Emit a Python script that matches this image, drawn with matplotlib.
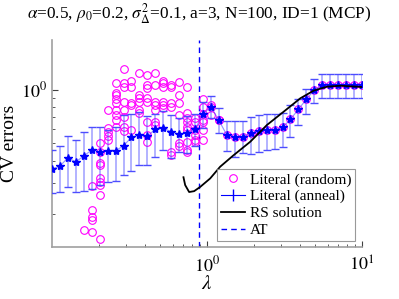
import numpy as np
import matplotlib
matplotlib.use("Agg")
import matplotlib.pyplot as plt
from matplotlib.lines import Line2D

plt.rcParams["font.family"] = ["Liberation Serif", "DejaVu Serif"]
plt.rcParams["mathtext.fontset"] = "stix"

# lambda grid (40 log-spaced points, 0.1 .. 10)
lam = np.logspace(-1, 1, 40)

# annealed literal: mean and error bar ends
anneal_mean = [0.359, 0.373, 0.415, 0.394, 0.425, 0.459, 0.449, 0.453, 0.454, 0.485,
               0.540, 0.556, 0.547, 0.601, 0.607, 0.581, 0.562, 0.573, 0.601, 0.729,
               0.801, 0.671, 0.556, 0.545, 0.545, 0.569, 0.588, 0.591, 0.593, 0.614,
               0.681, 0.775, 0.882, 0.994, 1.06, 1.06, 1.06, 1.06, 1.06, 1.06]
anneal_hi = [0.459, 0.481, 0.549, 0.522, 0.575, 0.619, 0.614, 0.593, 0.619, 0.720,
             0.726, 0.745, 0.711, 0.726, 0.758, 0.720, 0.690, 0.711, 0.726, 0.855,
             0.923, 0.785, 0.669, 0.669, 0.669, 0.699, 0.720, 0.729, 0.729, 0.742,
             0.819, 0.882, 1.006, 1.14, 1.216, 1.216, 1.216, 1.216, 1.216, 1.216]
anneal_lo = [0.262, 0.266, 0.284, 0.268, 0.270, 0.278, 0.292, 0.305, 0.308, 0.333,
             0.351, 0.378, 0.378, 0.420, 0.459, 0.414, 0.450, 0.440, 0.480, 0.609,
             0.690, 0.570, 0.454, 0.421, 0.440, 0.436, 0.449, 0.459, 0.465, 0.475,
             0.540, 0.633, 0.729, 0.837, 0.893, 0.893, 0.893, 0.893, 0.893, 0.893]

# random-start literal: several runs per lambda index (from index 22 on they match anneal)
random_runs = {
    4: [0.164],
    5: [0.288, 0.212, 0.194, 0.186, 0.160],
    6: [0.504, 0.449, 0.386, 0.380, 0.318, 0.303, 0.292, 0.257, 0.145],
    7: [0.768, 0.607, 0.576, 0.549, 0.522],
    8: [1.083, 0.952, 0.932, 0.882, 0.837, 0.768, 0.720, 0.675, 0.614],
    9: [1.297, 1.083, 1.037, 0.855, 0.768, 0.704, 0.619, 0.586],
    10: [1.116, 1.037, 0.837, 0.819, 0.593],
    11: [1.240, 0.932, 0.893, 0.855, 0.768, 0.736],
    12: [1.205, 1.060, 1.016, 0.893, 0.855, 0.661, 0.556, 0.510],
    13: [1.232, 1.060, 0.855, 0.819, 0.768, 0.661, 0.633],
    14: [1.116, 1.090, 1.037, 0.855, 0.819, 0.785],
    15: [1.060, 1.037, 0.837, 0.801, 0.449, 0.430],
    16: [1.105, 0.932, 0.837, 0.720, 0.500, 0.480],
    17: [1.037, 0.736, 0.690, 0.661, 0.619, 0.593, 0.510, 0.459, 0.449],
    18: [0.690, 0.661, 0.593, 0.556, 0.522, 0.510],
    19: [0.882, 0.801, 0.729, 0.675, 0.661, 0.593, 0.522],
    20: [0.819, 0.801, 0.720],
    21: [0.675, 0.671],
}
for k in range(22, 40):
    random_runs[k] = [anneal_mean[k]]

# replica-symmetric solution curve
rs_lam = [0.705, 0.723, 0.767, 0.826, 0.903, 1.048, 1.216, 1.475, 1.90, 2.435,
          3.12, 4.00, 4.87, 5.94, 7.24, 10.0]
rs_err = [0.323, 0.292, 0.267, 0.270, 0.285, 0.318, 0.370, 0.427, 0.510, 0.633,
          0.751, 0.893, 0.985, 1.037, 1.050, 1.033]

lam_at = 0.893

rx = [lam[k] for k, v in random_runs.items() for _ in v]
ry = [y for k, v in random_runs.items() for y in v]

fig = plt.figure(figsize=(3.99, 2.99), dpi=100)
ax = fig.add_axes([0.1303, 0.1739, 0.777, 0.692])

ax.plot(rx, ry, "o", mfc="none", mec="#ff00ff", ms=5.5, mew=0.8, zorder=2)

mean = np.array(anneal_mean)
yerr = [mean - np.array(anneal_lo), np.array(anneal_hi) - mean]
eb = ax.errorbar(lam, mean, yerr=yerr, fmt="-", color=(0.3, 0.3, 1.0, 0.6), lw=0.8,
                 ecolor=(0.3, 0.3, 1.0, 0.5), elinewidth=1.2, capsize=3, zorder=3)
for cap in eb[1]:
    cap.set_color("blue")
    cap.set_alpha(1)
ax.plot(lam, mean, "*", color="blue", ms=6, zorder=4)

ax.plot(rs_lam, rs_err, "-", color="black", lw=1.3, zorder=5)
ax.axvline(lam_at, color="blue", ls=(0, (4, 3)), lw=1.0, zorder=1)

ax.set_xscale("log")
ax.set_yscale("log")
ax.set_xlim(0.1, 10)
ax.set_ylim(0.1315, 1.89)
ax.set_xticks([1, 10])
ax.set_xticklabels([r"$10^0$", r"$10^1$"])
ax.set_yticks([1])
ax.set_yticklabels([r"$10^0$"])
ax.tick_params(which="both", direction="in", colors="#404040", labelcolor="black",
               labelsize=13)
ax.tick_params(axis="x", pad=6)
ax.tick_params(which="major", length=4)
ax.tick_params(which="minor", length=2)
for s in ["top", "right"]:
    ax.spines[s].set_visible(False)
for s in ["left", "bottom"]:
    ax.spines[s].set_color("#a0a0a0")
    ax.spines[s].set_linewidth(1.2)

ax.set_xlabel(r"$\lambda$", fontsize=15, labelpad=0)
ax.set_ylabel("CV errors", fontsize=14, labelpad=2)

fig.text(0.5, 1 - 14 / 299,
         r"$\alpha$=0.5, $\rho_0$=0.2, $\sigma^2_\Delta$=0.1, a=3, N=100, ID=1 (MCP)",
         ha="center", va="center", fontsize=12.4)

handles = [
    Line2D([], [], ls="none", marker="o", mfc="none", mec="#ff00ff", ms=5.5, mew=0.8),
    Line2D([], [], ls="-", marker="|", color="blue", ms=8, lw=0.8),
    Line2D([], [], color="black", lw=1.3),
    Line2D([], [], color="blue", ls=(0, (4, 3)), lw=1.0),
]
labels = ["Literal (random)", "Literal (anneal)", "RS solution", "AT"]
leg = ax.legend(handles, labels, loc="lower right", bbox_to_anchor=(0.977, 0.03),
                borderaxespad=0, fontsize=11, frameon=True, fancybox=False,
                edgecolor="#808080", handlelength=1.6, handletextpad=0.3,
                labelspacing=0.2, borderpad=0.25)
leg.get_frame().set_linewidth(0.8)

fig.savefig("out.png", dpi=100)
